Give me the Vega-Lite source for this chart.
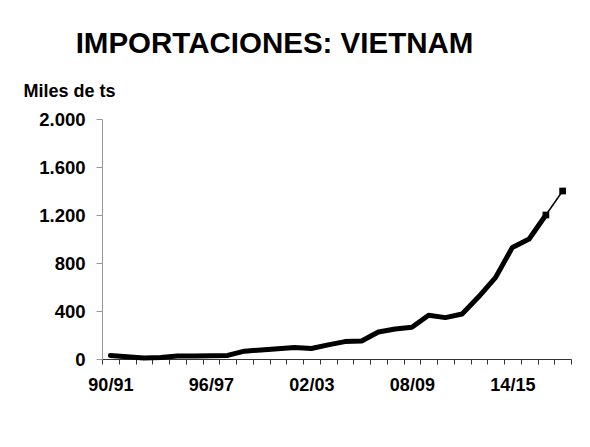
{
  "$schema": "https://vega.github.io/schema/vega-lite/v6.json",
  "width": 469,
  "height": 240,
  "autosize": {"type": "none"},
  "padding": {"left": 102, "top": 119, "right": 19, "bottom": 88},
  "background": "white",
  "title": {
    "text": "IMPORTACIONES: VIETNAM",
    "font": "Liberation Sans",
    "fontSize": 29.5,
    "fontWeight": "bold",
    "color": "#000000",
    "anchor": "middle",
    "dx": -62,
    "baseline": "alphabetic",
    "offset": 0
  },
  "data": {
    "values": [
      {"year": "90/91", "value": 30, "series": "hist"},
      {"year": "91/92", "value": 18, "series": "hist"},
      {"year": "92/93", "value": 8, "series": "hist"},
      {"year": "93/94", "value": 12, "series": "hist"},
      {"year": "94/95", "value": 25, "series": "hist"},
      {"year": "95/96", "value": 25, "series": "hist"},
      {"year": "96/97", "value": 27, "series": "hist"},
      {"year": "97/98", "value": 30, "series": "hist"},
      {"year": "98/99", "value": 65, "series": "hist"},
      {"year": "99/00", "value": 75, "series": "hist"},
      {"year": "00/01", "value": 85, "series": "hist"},
      {"year": "01/02", "value": 95, "series": "hist"},
      {"year": "02/03", "value": 88, "series": "hist"},
      {"year": "03/04", "value": 118, "series": "hist"},
      {"year": "04/05", "value": 145, "series": "hist"},
      {"year": "05/06", "value": 150, "series": "hist"},
      {"year": "06/07", "value": 225, "series": "hist"},
      {"year": "07/08", "value": 250, "series": "hist"},
      {"year": "08/09", "value": 265, "series": "hist"},
      {"year": "09/10", "value": 365, "series": "hist"},
      {"year": "10/11", "value": 345, "series": "hist"},
      {"year": "11/12", "value": 375, "series": "hist"},
      {"year": "12/13", "value": 520, "series": "hist"},
      {"year": "13/14", "value": 680, "series": "hist"},
      {"year": "14/15", "value": 930, "series": "hist"},
      {"year": "15/16", "value": 1000, "series": "hist"},
      {"year": "16/17", "value": 1200, "series": "hist"},
      {"year": "16/17", "value": 1200, "series": "proy"},
      {"year": "17/18", "value": 1400, "series": "proy"}
    ]
  },
  "encoding": {
    "x": {
      "field": "year",
      "type": "ordinal",
      "sort": null,
      "scale": {"type": "band", "paddingInner": 0, "paddingOuter": 0},
      "axis": {
        "title": null,
        "labelAngle": 0,
        "labelOverlap": false,
        "labelExpr": "(datum.label == '90/91' || datum.label == '96/97' || datum.label == '02/03' || datum.label == '08/09' || datum.label == '14/15') ? datum.label : ''",
        "labelFont": "Liberation Sans",
        "labelFontSize": 18,
        "labelFontWeight": "bold",
        "labelColor": "#000000",
        "labelPadding": 12,
        "tickBand": "extent",
        "tickSize": 5,
        "tickColor": "#333333",
        "domainColor": "#333333",
        "domainWidth": 1.2,
        "grid": false
      }
    },
    "y": {
      "field": "value",
      "type": "quantitative",
      "scale": {"domain": [0, 2000], "nice": false},
      "axis": {
        "title": "Miles de ts",
        "titleAngle": 0,
        "titleAlign": "left",
        "titleBaseline": "alphabetic",
        "titleX": -79,
        "titleY": -23,
        "titleFont": "Liberation Sans",
        "titleFontSize": 18,
        "titleFontWeight": "bold",
        "titleColor": "#000000",
        "values": [0, 400, 800, 1200, 1600, 2000],
        "labelExpr": "replace(format(datum.value, ','), ',', '.')",
        "labelFont": "Liberation Sans",
        "labelFontSize": 18.5,
        "labelFontWeight": "bold",
        "labelColor": "#000000",
        "labelPadding": 11,
        "tickSize": 6,
        "tickColor": "#999999",
        "domainColor": "#999999",
        "grid": false
      }
    }
  },
  "layer": [
    {
      "transform": [{"filter": "datum.series == 'hist'"}],
      "mark": {"type": "line", "color": "#000000", "strokeWidth": 5, "strokeJoin": "round", "strokeCap": "round"}
    },
    {
      "transform": [{"filter": "datum.series == 'proy'"}],
      "mark": {"type": "line", "color": "#000000", "strokeWidth": 1.5}
    },
    {
      "transform": [{"filter": "datum.series == 'proy'"}],
      "mark": {"type": "point", "shape": "square", "filled": true, "color": "#000000", "size": 45, "opacity": 1}
    }
  ],
  "config": {
    "view": {"stroke": null}
  }
}
